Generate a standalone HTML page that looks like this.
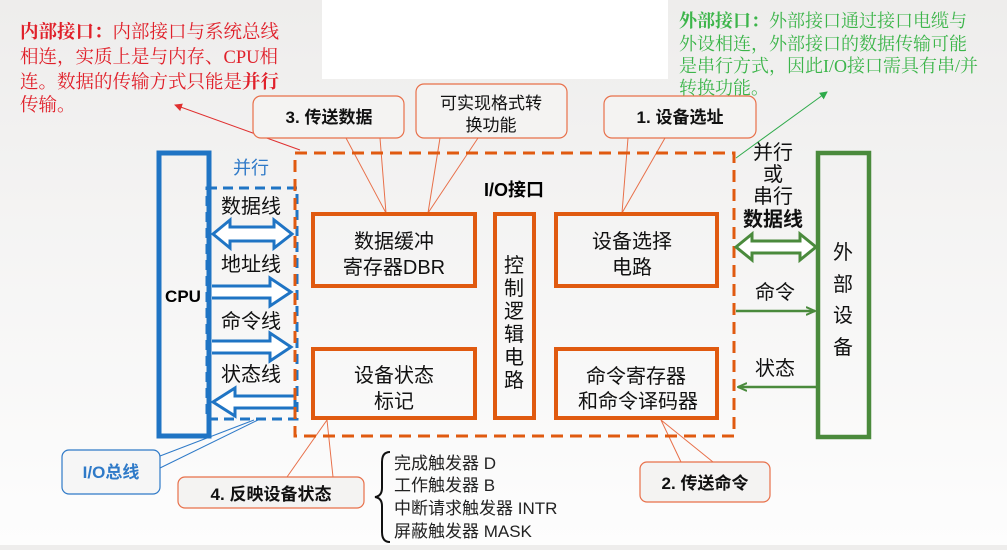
<!DOCTYPE html>
<html><head><meta charset="utf-8"><style>
html,body{margin:0;padding:0;}
body{width:1007px;height:545px;overflow:hidden;background:linear-gradient(#eeedec,#fdfdfd);font-family:"Liberation Sans","Noto Sans CJK SC",sans-serif;}
</style></head><body>
<svg width="1007" height="545" viewBox="0 0 1007 545" xmlns="http://www.w3.org/2000/svg" font-family="Liberation Sans, Noto Sans CJK SC, sans-serif">
<defs>
<marker id="ar" markerWidth="8" markerHeight="8" refX="7" refY="4" orient="auto" markerUnits="userSpaceOnUse"><path d="M0,0 L8,4 L0,8 z" fill="#e03030"/></marker>
<marker id="ag" markerWidth="8" markerHeight="8" refX="7" refY="4" orient="auto" markerUnits="userSpaceOnUse"><path d="M0,0 L8,4 L0,8 z" fill="#2eaa4a"/></marker>
<marker id="ag2" markerWidth="10" markerHeight="10" refX="9" refY="5" orient="auto" markerUnits="userSpaceOnUse"><path d="M0,1 L9,5 L0,9" fill="none" stroke="#4a8a3c" stroke-width="2"/></marker>
</defs>
<rect x="322" y="0" width="346" height="79" fill="#fff"/>
<g font-size="18.5" fill="#e0202a" font-family="Liberation Serif, Noto Serif CJK SC, serif">
<text x="20" y="38"><tspan font-weight="bold">内部接口：</tspan>内部接口与系统总线</text>
<text x="20" y="63">相连，实质上是与内存、CPU相</text>
<text x="20" y="88">连。数据的传输方式只能是<tspan font-weight="bold">并行</tspan></text>
<text x="20" y="111">传输。</text>
</g>
<g font-size="18" fill="#3cb54a" font-family="Liberation Serif, Noto Serif CJK SC, serif">
<text x="679" y="27"><tspan font-weight="bold">外部接口：</tspan>外部接口通过接口电缆与</text>
<text x="679" y="50">外设相连，外部接口的数据传输可能</text>
<text x="679" y="72">是串行方式，因此I/O接口需具有串/并</text>
<text x="679" y="94">转换功能。</text>
</g>
<line x1="300" y1="150" x2="175" y2="105" stroke="#e03030" stroke-width="1" marker-end="url(#ar)"/>
<line x1="736" y1="158" x2="827" y2="92" stroke="#2eaa4a" stroke-width="1" marker-end="url(#ag)"/>
<g stroke="#e8704a" stroke-width="1" fill="none">
<polyline points="346,138 386,213 380,138"/>
<polyline points="440,138 428,213 478,138"/>
<polyline points="628,138 622,213 665,138"/>
<polyline points="287,477 327,420 333,477"/>
<polyline points="681,462 661,420 713,462"/>
</g>
<g stroke="#2f7ac8" stroke-width="1" fill="none">
<line x1="160" y1="456" x2="254" y2="420"/><line x1="160" y1="468" x2="258" y2="420"/>
</g>
<g fill="#f4f3f2" stroke="#e8704a" stroke-width="1.2">
<rect x="253" y="96" width="151" height="42" rx="8"/>
<rect x="416" y="84" width="151" height="54" rx="8"/>
<rect x="604" y="96" width="152" height="42" rx="8"/>
<rect x="178" y="477" width="186" height="31" rx="7"/>
<rect x="640" y="462" width="130" height="40" rx="7"/>
</g>
<rect x="62" y="450" width="98" height="44" rx="7" fill="#f6f6f6" stroke="#2f7ac8" stroke-width="1.2"/>
<g font-size="17" font-weight="bold" fill="#111" text-anchor="middle">
<text x="329" y="123">3. 传送数据</text>
<text x="491" y="109" font-weight="normal">可实现格式转</text>
<text x="491" y="131" font-weight="normal">换功能</text>
<text x="680" y="123">1. 设备选址</text>
<text x="271" y="500">4. 反映设备状态</text>
<text x="705" y="489">2. 传送命令</text>
<text x="111" y="478" fill="#2f7ac8">I/O总线</text>
</g>
<rect x="159" y="153" width="50" height="283" fill="none" stroke="#1f74c4" stroke-width="5"/>
<text x="183" y="302" font-size="17" font-weight="bold" text-anchor="middle">CPU</text>
<text x="251" y="174" font-size="18" fill="#2f7ac8" text-anchor="middle">并行</text>
<rect x="207" y="188" width="90" height="231" fill="none" stroke="#1f74c4" stroke-width="3" stroke-dasharray="10,6"/>
<g font-size="20" text-anchor="middle" fill="#111">
<text x="251" y="213">数据线</text><text x="251" y="271">地址线</text><text x="251" y="328">命令线</text><text x="251" y="381">状态线</text>
</g>
<g fill="#fff" stroke="#1f74c4" stroke-width="3" stroke-linejoin="miter">
<path d="M213,234 L230,220 L230,227 L274,227 L274,220 L292,234 L274,248 L274,241 L230,241 L230,248 Z"/>
<path d="M212,286 L270,286 L270,278 L291,292 L270,306 L270,298 L212,298"/>
<path d="M212,341 L270,341 L270,333 L291,347 L270,361 L270,353 L212,353"/>
<path d="M295,396 L235,396 L235,388 L213,402 L235,416 L235,408 L295,408 Z"/>
</g>
<rect x="295" y="153" width="439" height="283" fill="none" stroke="#e05a10" stroke-width="3" stroke-dasharray="12,7"/>
<text x="514" y="196" font-size="18" font-weight="bold" text-anchor="middle">I/O接口</text>
<g fill="none" stroke="#e05a10" stroke-width="4">
<rect x="313" y="214" width="162" height="72"/>
<rect x="495" y="214" width="39" height="204"/>
<rect x="556" y="214" width="161" height="72"/>
<rect x="313" y="349" width="162" height="69"/>
<rect x="556" y="349" width="161" height="69"/>
</g>
<g font-size="20" text-anchor="middle" fill="#111">
<text x="394" y="248">数据缓冲</text><text x="394" y="274">寄存器DBR</text>
<text x="632" y="248">设备选择</text><text x="632" y="274">电路</text>
<text x="394" y="382">设备状态</text><text x="394" y="408">标记</text>
<text x="636" y="383">命令寄存器</text><text x="638" y="408">和命令译码器</text>
<text x="514" y="272">控</text><text x="514" y="295">制</text><text x="514" y="318">逻</text><text x="514" y="341">辑</text><text x="514" y="364">电</text><text x="514" y="387">路</text>
</g>
<rect x="818" y="153" width="51" height="284" fill="none" stroke="#4a8a3c" stroke-width="4.5"/>
<g font-size="20" text-anchor="middle" fill="#111">
<text x="843" y="259">外</text><text x="843" y="291">部</text><text x="843" y="322">设</text><text x="843" y="354">备</text>
<text x="773" y="159">并行</text><text x="773" y="181">或</text><text x="773" y="203">串行</text>
<text x="773" y="226" font-weight="bold">数据线</text>
<text x="775" y="299">命令</text><text x="775" y="375">状态</text>
</g>
<path d="M736,247 L752,234 L752,241 L800,241 L800,234 L816,247 L800,260 L800,253 L752,253 L752,260 Z" fill="#fff" stroke="#4a8a3c" stroke-width="3"/>
<line x1="736" y1="311" x2="815" y2="311" stroke="#4a8a3c" stroke-width="2.5" marker-end="url(#ag2)"/>
<line x1="816" y1="387" x2="738" y2="387" stroke="#4a8a3c" stroke-width="2.5" marker-end="url(#ag2)"/>
<path d="M390,452 Q382,452 382,462 L382,488 Q382,496 375,497 Q382,498 382,506 L382,532 Q382,542 390,542" fill="none" stroke="#111" stroke-width="2"/>
<g font-size="17" fill="#222">
<text x="394" y="469">完成触发器 D</text>
<text x="394" y="491">工作触发器 B</text>
<text x="394" y="514">中断请求触发器 INTR</text>
<text x="394" y="537">屏蔽触发器 MASK</text>
</g>
</svg>
</body></html>
